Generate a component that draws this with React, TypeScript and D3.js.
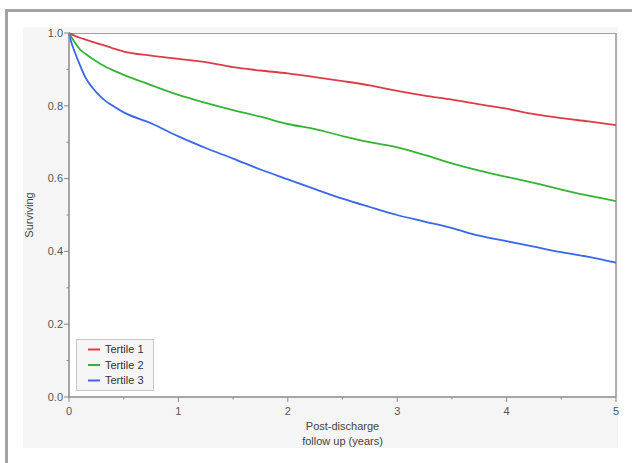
import React from "react";
import * as d3 from "d3";

const times = [0, 0.02, 0.05, 0.1, 0.15, 0.2, 0.3, 0.4, 0.5, 0.75, 1, 1.25, 1.5, 1.75, 2, 2.25, 2.5, 2.75, 3, 3.25, 3.5, 3.75, 4, 4.25, 4.5, 4.75, 5];
const tertile1 = [1.0, 0.997, 0.993, 0.987, 0.982, 0.977, 0.968, 0.958, 0.949, 0.938, 0.929, 0.92, 0.906, 0.897, 0.889, 0.879, 0.868, 0.856, 0.841, 0.828, 0.817, 0.804, 0.792, 0.777, 0.766, 0.757, 0.747];
const tertile2 = [1.0, 0.99, 0.975, 0.955, 0.943, 0.932, 0.913, 0.898, 0.885, 0.857, 0.83, 0.808, 0.788, 0.77, 0.75, 0.736, 0.717, 0.7, 0.686, 0.665, 0.642, 0.622, 0.605, 0.588, 0.57, 0.553, 0.538];
const tertile3 = [1.0, 0.975, 0.95, 0.912, 0.878, 0.855, 0.822, 0.8, 0.782, 0.752, 0.716, 0.684, 0.655, 0.625, 0.598, 0.571, 0.545, 0.522, 0.5, 0.482, 0.464, 0.443, 0.428, 0.413, 0.398, 0.385, 0.369];
const seriesNames = ["Tertile 1", "Tertile 2", "Tertile 3"];
const seriesColors = ["#dc3c48", "#36b336", "#3a66ea"];
const xTicks = [0, 1, 2, 3, 4, 5];
const yTicks = [0, 0.2, 0.4, 0.6, 0.8, 1.0];

export default function App() {
  const W = 632, H = 463;
  const left = 69, right = 616, top = 33, bottom = 397;
  const x = d3.scaleLinear().domain([0, 5]).range([left, right]);
  const y = d3.scaleLinear().domain([0, 1]).range([bottom, top]);
  const line = d3.line<number>().x((_, i) => x(times[i])).y((d) => y(d)).curve(d3.curveMonotoneX);
  const data = [tertile1, tertile2, tertile3];
  const font = "Arial, 'Liberation Sans', sans-serif";
  const xMinor = d3.range(0.5, 5, 1);
  const yMinor = d3.range(0.1, 1, 0.2);
  const legendY = [349.5, 365, 380.5];

  return (
    <svg width={W} height={H} style={{ position: "absolute", left: 0, top: 0, display: "block" }} fontFamily={font}>
      <rect x={0} y={0} width={W} height={H} fill="#ffffff" />
      <rect x={5} y={9} width={3} height={H - 9} fill="#a3a3a3" />
      <rect x={5} y={9} width={W - 5} height={3} fill="#a3a3a3" />
      <rect x={23} y={27} width={595} height={421} fill="#f5f5f5" />
      <rect x={left} y={top} width={right - left} height={bottom - top} fill="#ffffff" />
      <line x1={left} x2={right} y1={top + 0.5} y2={top + 0.5} stroke="#a0a0a0" strokeWidth={1} />
      <line x1={right} x2={right} y1={top} y2={bottom} stroke="#999" strokeWidth={1.5} />

      {data.map((d, i) => (
        <path key={i} d={line(d) || ""} fill="none" stroke={seriesColors[i]} strokeWidth={1.8} strokeLinejoin="round" />
      ))}

      <line x1={left} x2={left} y1={top} y2={bottom + 1} stroke="#8a8a8a" strokeWidth={1.5} />
      <line x1={left} x2={right} y1={bottom} y2={bottom} stroke="#8a8a8a" strokeWidth={1.5} />

      {yTicks.map((t) => (
        <g key={"y" + t}>
          <line x1={left - 5} x2={left} y1={y(t)} y2={y(t)} stroke="#8a8a8a" strokeWidth={1} />
          <text x={left - 6} y={y(t)} dy="0.35em" textAnchor="end" fontSize={11} fill="#555">{t.toFixed(1)}</text>
        </g>
      ))}
      {yMinor.map((t) => (
        <line key={"ym" + t} x1={left - 2.5} x2={left} y1={y(t)} y2={y(t)} stroke="#8a8a8a" strokeWidth={1} />
      ))}
      {xTicks.map((t) => (
        <g key={"x" + t}>
          <line x1={x(t)} x2={x(t)} y1={bottom} y2={bottom + 5} stroke="#8a8a8a" strokeWidth={1} />
          <text x={x(t)} y={bottom + 18} textAnchor="middle" fontSize={11} fill="#555">{t}</text>
        </g>
      ))}
      {xMinor.map((t) => (
        <line key={"xm" + t} x1={x(t)} x2={x(t)} y1={bottom} y2={bottom + 2.5} stroke="#8a8a8a" strokeWidth={1} />
      ))}

      <text transform={`translate(33,${(top + bottom) / 2}) rotate(-90)`} textAnchor="middle" fontSize={11} fill="#444">Surviving</text>
      <text x={(left + right) / 2} y={430} textAnchor="middle" fontSize={11} fill="#444">Post-discharge</text>
      <text x={(left + right) / 2} y={445} textAnchor="middle" fontSize={11} fill="#444">follow up (years)</text>

      <rect x={76.5} y={339.5} width={77} height={51} fill="#f5f5f5" stroke="#c8c8c8" strokeWidth={1} />
      {seriesNames.map((n, i) => (
        <g key={n}>
          <line x1={88} x2={100} y1={legendY[i]} y2={legendY[i]} stroke={seriesColors[i]} strokeWidth={2} />
          <text x={105} y={legendY[i]} dy="0.35em" fontSize={11} fill="#333">{n}</text>
        </g>
      ))}
    </svg>
  );
}
